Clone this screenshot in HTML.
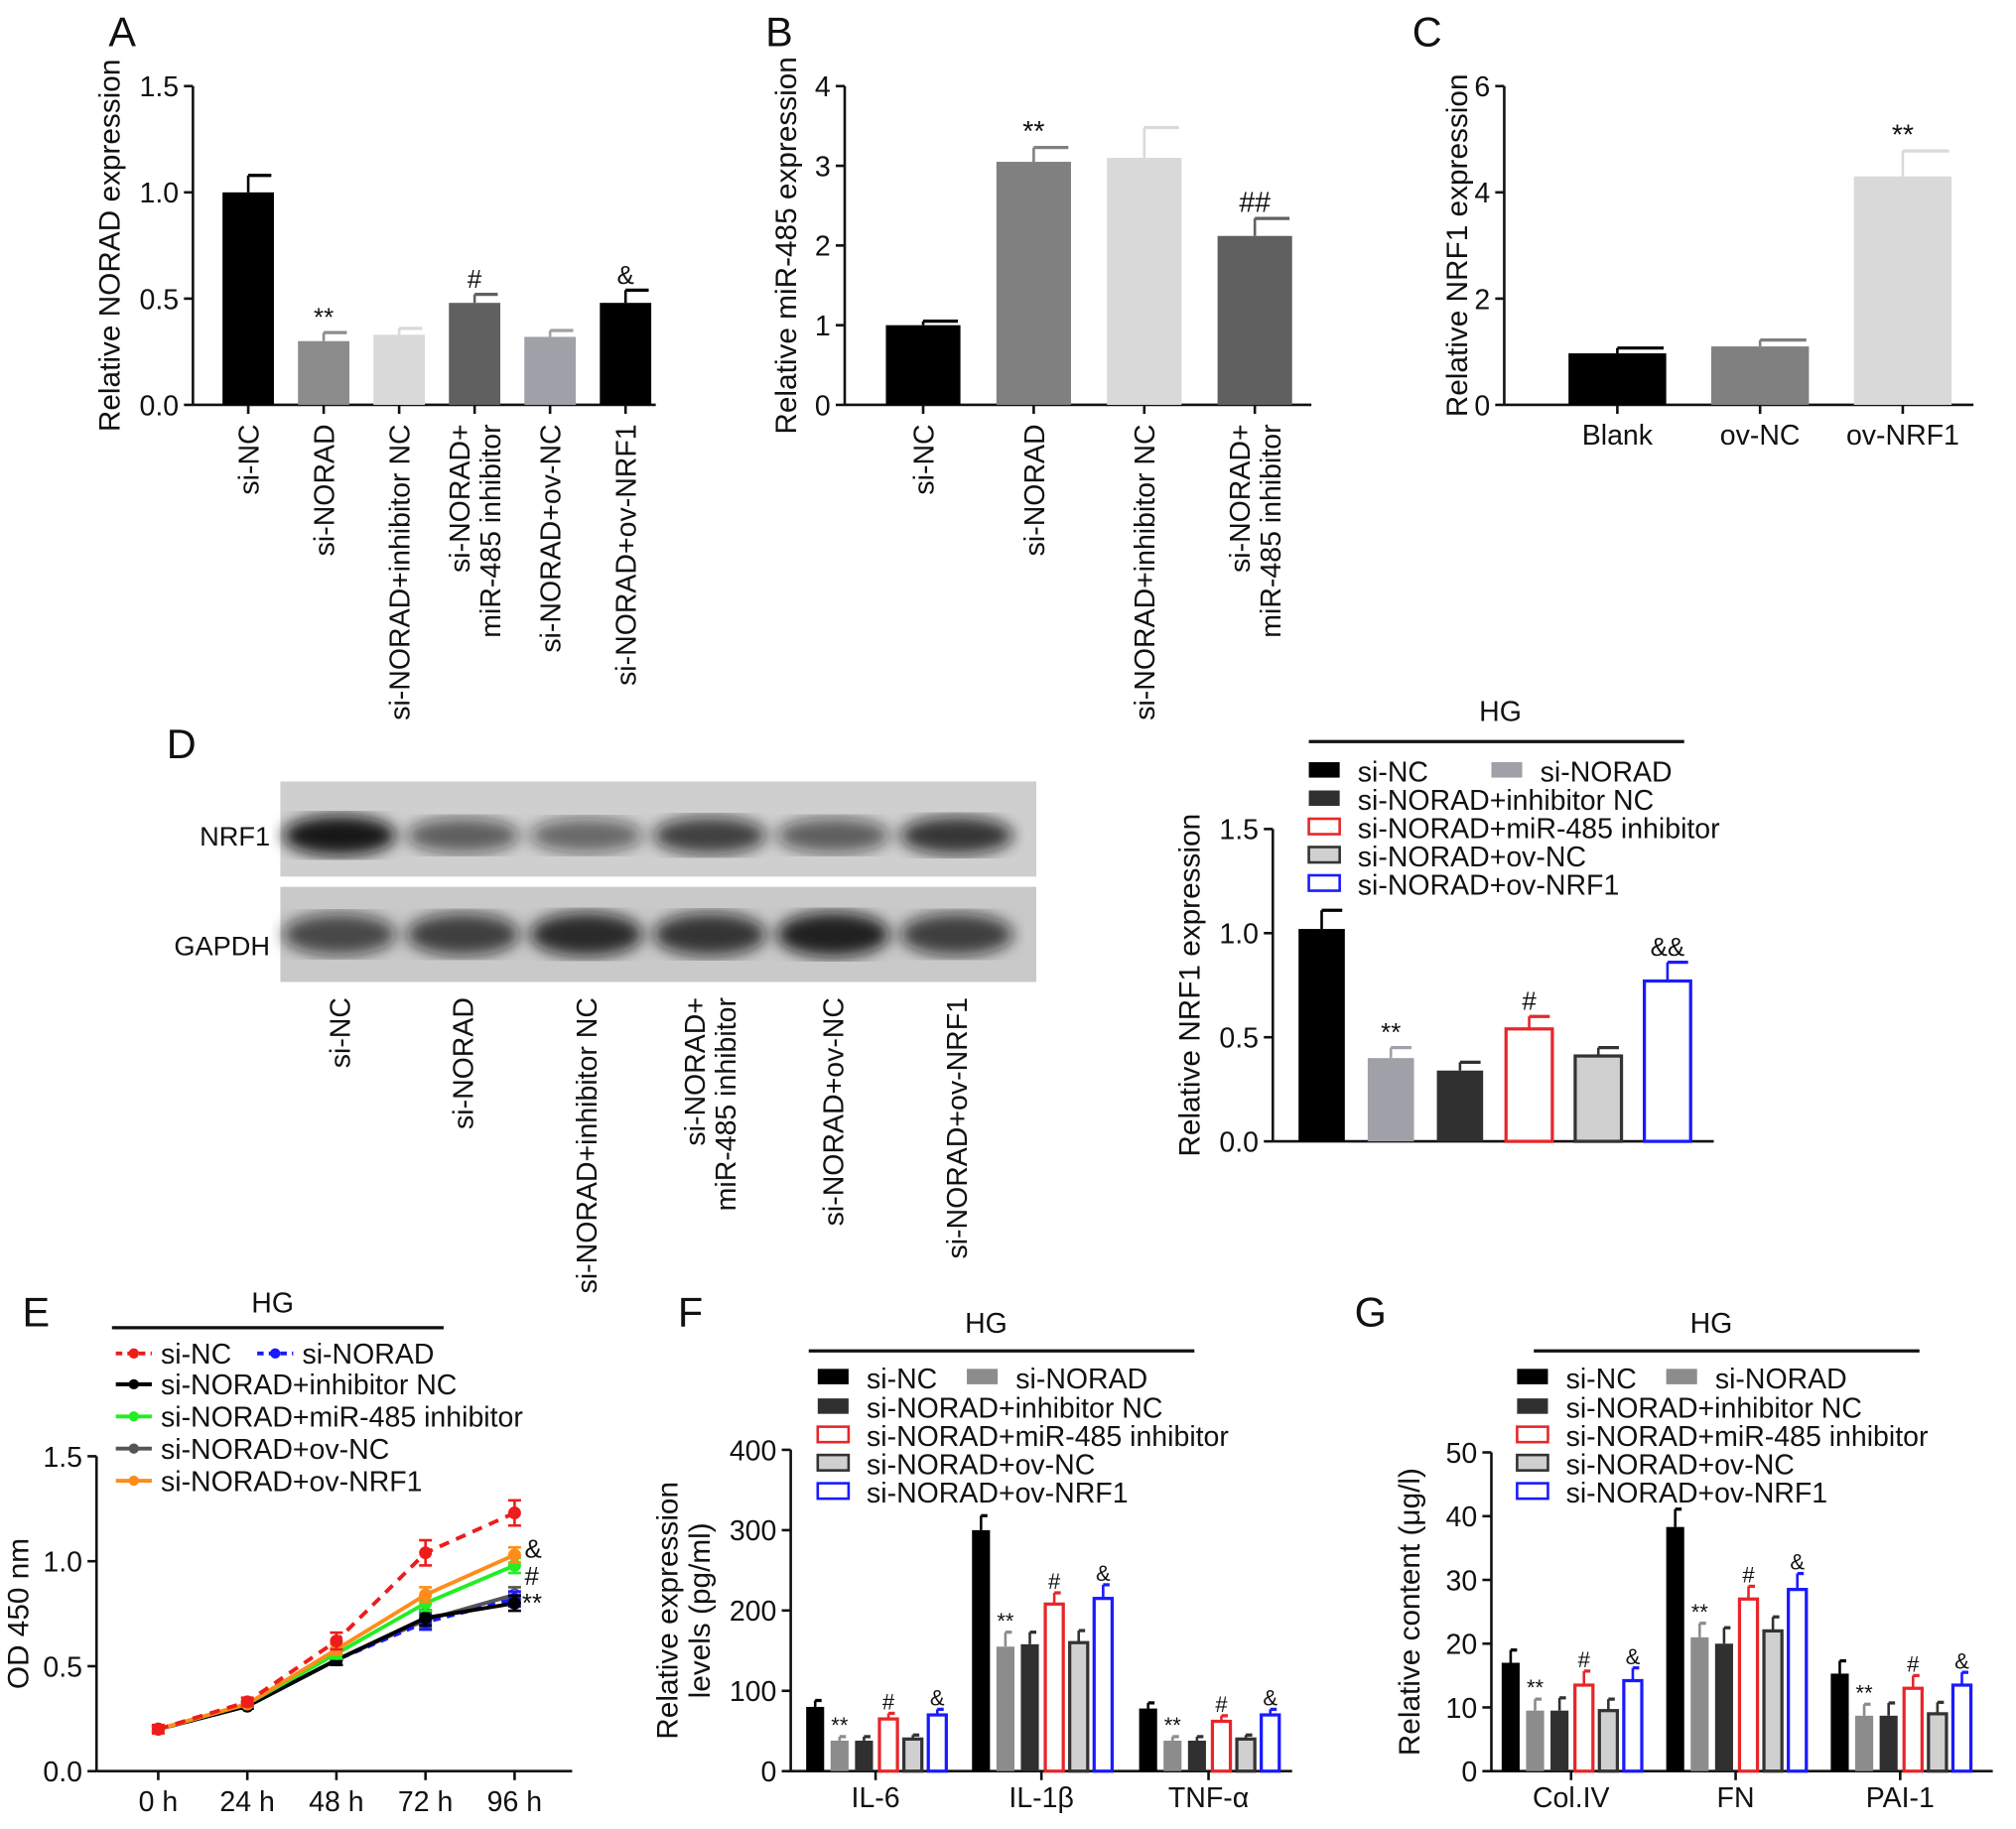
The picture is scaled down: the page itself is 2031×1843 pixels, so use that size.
<!DOCTYPE html>
<html><head><meta charset="utf-8"><style>
html,body{margin:0;padding:0;background:#fff}
svg{display:block;font-family:"Liberation Sans",sans-serif}
</style></head><body>
<svg id="fig" width="2031" height="1843" viewBox="0 0 1568 1423" xmlns="http://www.w3.org/2000/svg">
<g id="root"></g>
</svg>
<script>
// ---------- DATA ----------
const aCats=["si-NC","si-NORAD","si-NORAD+inhibitor NC","si-NORAD+|miR-485 inhibitor","si-NORAD+ov-NC","si-NORAD+ov-NRF1"];
const aVals=[1.0,0.30,0.33,0.48,0.32,0.48];
const aErr=[0.08,0.04,0.03,0.04,0.03,0.06];
const aSig=["","**","","#","","&"];
const aTicks=[0,0.5,1.0,1.5];
const bCats=["si-NC","si-NORAD","si-NORAD+inhibitor NC","si-NORAD+|miR-485 inhibitor"];
const bVals=[1.0,3.05,3.1,2.12];
const bErr=[0.05,0.18,0.38,0.22];
const bSig=["","**","","##"];
const bTicks=[0,1,2,3,4];
const cCats=["Blank","ov-NC","ov-NRF1"];
const cVals=[0.97,1.1,4.3];
const cErr=[0.1,0.12,0.48];
const cSig=["","","**"];
const cTicks=[0,2,4,6];
const dVals=[1.02,0.40,0.34,0.54,0.41,0.77];
const dErr=[0.09,0.05,0.04,0.06,0.04,0.09];
const dSig=["","**","","#","","&&"];
const dTicks=[0,0.5,1.0,1.5];
const dLanes=["si-NC","si-NORAD","si-NORAD+inhibitor NC","si-NORAD+|miR-485 inhibitor","si-NORAD+ov-NC","si-NORAD+ov-NRF1"];
const eTimes=["0 h","24 h","48 h","72 h","96 h"];
const eTicks=[0,0.5,1.0,1.5];
const eNC=[0.2,0.33,0.62,1.04,1.23];
const eNORAD=[0.2,0.31,0.53,0.71,0.82];
const eInhNC=[0.2,0.31,0.53,0.73,0.80];
const eInh=[0.2,0.32,0.56,0.80,0.98];
const eOvNC=[0.2,0.31,0.53,0.72,0.84];
const eOvNRF1=[0.2,0.32,0.58,0.84,1.03];
const eErrNC=[0.02,0.02,0.04,0.06,0.06];
const fGroups=["IL-6","IL-1β","TNF-α"];
const fVals=[[80,38,38,65,40,70],[300,155,158,208,160,215],[78,38,38,62,40,70]];
const fErr=[[8,5,5,7,5,7],[18,18,15,14,15,17],[7,5,5,7,5,7]];
const fTicks=[0,100,200,300,400];
const gGroups=["Col.IV","FN","PAI-1"];
const gVals=[[17,9.5,9.5,13.5,9.5,14.2],[38.3,21,20,27,22,28.5],[15.3,8.7,8.7,13,9,13.5]];
const gErr=[[2,1.8,2,2.2,1.8,2],[2.8,2.2,2.5,2,2.2,2.5],[2,1.8,2,2,1.8,2]];
const gTicks=[0,10,20,30,40,50];
const grpSig=["","**","","#","","&"];
const legendNames=["si-NC","si-NORAD","si-NORAD+inhibitor NC","si-NORAD+miR-485 inhibitor","si-NORAD+ov-NC","si-NORAD+ov-NRF1"];

// ---------- HELPERS ----------
const NS="http://www.w3.org/2000/svg";
const root=document.getElementById('root');
function mk(tag,attrs,parent,name){const e=document.createElementNS(NS,tag);for(const k in attrs)e.setAttribute(k,attrs[k]);


(parent||root).appendChild(e);return e;}
function txt(x,y,s,size,anchor,parent,name,extra){const t=mk('text',Object.assign({x:x,y:y,'font-size':size,'text-anchor':anchor||'middle',fill:'#111'},extra||{}),parent,name);t.textContent=s;return t;}
function lin(x1,y1,x2,y2,parent,name,w,col,dash){const a={x1,y1,x2,y2,stroke:col||'#111','stroke-width':w||2};if(dash)a['stroke-dasharray']=dash;return mk('line',a,parent,name);}
function yScale(y0,y1,max){return v=>y0-(y0-y1)*v/max;}
function yAxis(g,x,y0,y1,ticks,fmt,title,tx,size){const max=ticks[ticks.length-1];const ys=yScale(y0,y1,max);
 lin(x,y0,x,y1,g,'y-axis');
 ticks.forEach(t=>{lin(x-7,ys(t),x,ys(t),g,'y-tick');txt(x-11,ys(t)+8,fmt(t),size||22,'end',g,'y-tick-label');});
 if(title){const lines=title.split('|');lines.forEach((l,i)=>{const xx=tx+i*25;txt(xx,(y0+y1)/2,l,size?size+1:23,'middle',g,'y-axis-title',{transform:`rotate(-90 ${xx} ${(y0+y1)/2})`});});}
 return ys;}
function rotLabel(x,y,s,g,size){const lines=s.split('|');const n=lines.length;lines.forEach((l,i)=>{const xx=x+(i-(n-1)/2)*24+8;txt(xx,y,l,size||22,'end',g,'x-tick-label',{transform:`rotate(-90 ${xx} ${y})`});});}
function bar(g,cx,w,ys,v,e,fill,stroke,name){const y=ys(v),y0=ys(0);
 mk('rect',{x:cx-w/2,y:y,width:w,height:y0-y,fill:fill,stroke:stroke||'none','stroke-width':stroke?2.5:0},g,name);
 const ye=ys(v+e);lin(cx,y,cx,ye,g,'error-bar',2,stroke||fill);lin(cx,ye,cx+w/2-2,ye,g,'error-cap',2.5,stroke||fill);}
function sig(g,cx,y,s,size){if(s)txt(cx,y,s,size||20,'middle',g,'significance-mark');}
const fx=(t)=>t.toFixed(1);
const fi=(t)=>String(t);

// ---------- PANEL A ----------
{const g=mk('g',{},root,'panel-a');txt(95,36,"A",32,'middle',g,'panel-label');
 const ys=yAxis(g,150,315,67,aTicks,fx,"Relative NORAD expression",93);
 lin(150,315,510,315,g,'x-axis');
 const cols=['#000','#8c8c8c','#d9d9d9','#606060','#a0a0a8','#000'];
 aCats.forEach((c,i)=>{const cx=193+i*58.7;bar(g,cx,40,ys,aVals[i],aErr[i],cols[i],null,'bar-'+i);
  sig(g,cx,ys(aVals[i]+aErr[i])-5,aSig[i]);lin(cx,315,cx,322,g,'x-tick');rotLabel(cx,330,c,g);});}
// ---------- PANEL B ----------
{const g=mk('g',{},root,'panel-b');txt(606,36,"B",32,'middle',g,'panel-label');
 const ys=yAxis(g,657,315,67,bTicks,fi,"Relative miR-485 expression",619);
 lin(657,315,1020,315,g,'x-axis');
 const cols=['#000','#808080','#d9d9d9','#606060'];
 bCats.forEach((c,i)=>{const cx=718+i*86;bar(g,cx,58,ys,bVals[i],bErr[i],cols[i],null,'bar-'+i);
  sig(g,cx,ys(bVals[i]+bErr[i])-5,bSig[i],22);lin(cx,315,cx,322,g,'x-tick');rotLabel(cx,330,c,g);});}
// ---------- PANEL C ----------
{const g=mk('g',{},root,'panel-c');txt(1110,36,"C",32,'middle',g,'panel-label');
 const ys=yAxis(g,1170,315,67,cTicks,fi,"Relative NRF1 expression",1141);
 lin(1170,315,1535,315,g,'x-axis');
 const cols=['#000','#808080','#d9d9d9'];
 cCats.forEach((c,i)=>{const cx=1258+i*111;bar(g,cx,76,ys,cVals[i],cErr[i],cols[i],null,'bar-'+i);
  sig(g,cx,ys(cVals[i]+cErr[i])-5,cSig[i],22);lin(cx,315,cx,322,g,'x-tick');txt(cx,346,c,22,'middle',g,'x-tick-label');});}
// ---------- PANEL D ----------
{const g=mk('g',{},root,'panel-d');txt(141,590,"D",32,'middle',g,'panel-label');
 const defs=mk('defs',{},g,'blot-defs');
 const f=mk('filter',{id:'blur'},defs,'blur-filter');mk('feGaussianBlur',{stdDeviation:6},f,'blur');
 mk('rect',{x:218,y:608,width:588,height:74,fill:'#cfcfcf'},g,'blot-nrf1-bg');
 mk('rect',{x:218,y:690,width:588,height:74,fill:'#c9c9c9'},g,'blot-gapdh-bg');
 const nrfI=[0.95,0.6,0.55,0.75,0.6,0.8];const gI=[0.7,0.75,0.85,0.8,0.9,0.75];
 dLanes.forEach((c,i)=>{const cx=264+i*96;
  mk('ellipse',{cx:cx,cy:650,rx:44,ry:10+6*nrfI[i],fill:'#111','fill-opacity':nrfI[i],filter:'url(#blur)'},g,'band-nrf1');
  mk('ellipse',{cx:cx,cy:727,rx:44,ry:12+6*gI[i],fill:'#111','fill-opacity':gI[i],filter:'url(#blur)'},g,'band-gapdh');
  rotLabel(cx,776,c,g);});
 txt(210,658,"NRF1",21,'end',g,'blot-label');txt(210,743,"GAPDH",21,'end',g,'blot-label');
 const ys=yAxis(g,990,888,645,dTicks,fx,"Relative NRF1 expression",933);
 lin(990,888,1333,888,g,'x-axis');
 txt(1167,561,"HG",22,'middle',g,'hg-label');lin(1018,577,1310,577,g,'hg-line',2.5);
 const fills=['#000','#a0a0a8','#303030','#fff','#d0d0d0','#fff'];const strokes=[null,null,null,'#e8262a','#333','#1a1aff'];
 dVals.forEach((v,i)=>{const cx=1028+i*53.8;bar(g,cx,36,ys,v,dErr[i],fills[i],strokes[i],'bar-'+i);sig(g,cx,ys(v+dErr[i])-5,dSig[i]);});
 const lx=[1018,1160,1018,1018,1018,1018],ly=[600,600,622,644,666,688];
 legendNames.forEach((n,i)=>{mk('rect',{x:lx[i],y:ly[i]-7,width:24,height:12,fill:fills[i],stroke:strokes[i]||'none','stroke-width':2},g,'legend-swatch');txt(lx[i]+38,ly[i]+8,n,22,'start',g,'legend-entry');});}
// ---------- PANEL E ----------
{const g=mk('g',{},root,'panel-e');txt(28,1032,"E",32,'middle',g,'panel-label');
 const ys=yAxis(g,75,1378,1133,eTicks,fx,"OD 450 nm",22);
 lin(75,1378,445,1378,g,'x-axis');
 const xs=i=>123+i*69.3;
 eTimes.forEach((t,i)=>{lin(xs(i),1378,xs(i),1385,g,'x-tick');txt(xs(i),1409,t,22,'middle',g,'x-tick-label');});
 txt(212,1021,"HG",22,'middle',g,'hg-label');lin(87,1033,345,1033,g,'hg-line',2.5);
 const series=[[eOvNC,'#555',null,'circ'],[eNORAD,'#1a1aff','6,5','sq'],[eInhNC,'#000',null,'dia'],[eInh,'#22ee22',null,'tri'],[eOvNRF1,'#ff8c1a',null,'tri'],[eNC,'#ee1c1c','8,6','circ']];
 series.forEach((s,k)=>{const d=s[0];const pts=d.map((v,i)=>xs(i)+','+ys(v)).join(' ');
  const a={points:pts,fill:'none',stroke:s[1],'stroke-width':3};if(s[2])a['stroke-dasharray']=s[2];mk('polyline',a,g,'series-line');
  d.forEach((v,i)=>{const e=eErrNC[i]*(k===5?1:0.6);lin(xs(i),ys(v-e),xs(i),ys(v+e),g,'error-bar',2,s[1]);lin(xs(i)-5,ys(v+e),xs(i)+5,ys(v+e),g,'error-cap',2,s[1]);lin(xs(i)-5,ys(v-e),xs(i)+5,ys(v-e),g,'error-cap',2,s[1]);
   mk('circle',{cx:xs(i),cy:ys(v),r:4.5,fill:s[3]==='circ'&&k===0?'#ccc':s[1],stroke:s[1]},g,'series-point');});});
 txt(408,1212,"&",20,'start',g,'significance-mark');txt(408,1233,"#",20,'start',g,'significance-mark');txt(406,1254,"**",20,'start',g,'significance-mark');
 const lg=[['si-NC','#ee1c1c','5,4',90,1053],['si-NORAD','#1a1aff','5,4',200,1053],['si-NORAD+inhibitor NC','#000',null,90,1077],['si-NORAD+miR-485 inhibitor','#22ee22',null,90,1102],['si-NORAD+ov-NC','#555',null,90,1127],['si-NORAD+ov-NRF1','#ff8c1a',null,90,1152]];
 lg.forEach(l=>{const a={x1:l[3],y1:l[4],x2:l[3]+28,y2:l[4],stroke:l[1],'stroke-width':3};if(l[2])a['stroke-dasharray']=l[2];mk('line',a,g,'legend-line');mk('circle',{cx:l[3]+14,cy:l[4],r:4,fill:l[1]},g,'legend-marker');txt(l[3]+35,l[4]+8,l[0],22,'start',g,'legend-entry');});}
// ---------- PANELS F, G ----------
function groupPanel(name,letter,lx,x0,xend,y0,y1,ticks,vals,errs,groups,gc,title,tx,legx,hgx){
 const g=mk('g',{},root,name);txt(lx,1032,letter,32,'middle',g,'panel-label');
 const ys=yAxis(g,x0,y0,y1,ticks,fi,title,tx);
 lin(x0,y0,xend,y0,g,'x-axis');
 txt(hgx,1037,"HG",22,'middle',g,'hg-label');lin(hgx-138,1051,hgx+162,1051,g,'hg-line',2.5);
 const fills=['#000','#8c8c8c','#303030','#fff','#d0d0d0','#fff'];const strokes=[null,null,null,'#e8262a','#333','#1a1aff'];
 groups.forEach((gr,j)=>{const c=gc[j];lin(c,y0,c,y0+7,g,'x-tick');txt(c,1406,gr,22,'middle',g,'x-tick-label');
  vals[j].forEach((v,i)=>{const cx=c-47+i*19;bar(g,cx,14,ys,v,errs[j][i],fills[i],strokes[i],'bar-'+gr+'-'+i);sig(g,cx,ys(v+errs[j][i])-3,grpSig[i],17);});});
 const lxs=[legx,legx+116,legx,legx,legx,legx],lys=[1072,1072,1095,1117,1139,1161];
 legendNames.forEach((n,i)=>{mk('rect',{x:lxs[i],y:lys[i]-7,width:24,height:12,fill:fills[i],stroke:strokes[i]||'none','stroke-width':2},g,'legend-swatch');txt(lxs[i]+38,lys[i]+8,n,22,'start',g,'legend-entry');});}
groupPanel('panel-f','F',537,615,1005,1378,1128,fTicks,fVals,fErr,fGroups,[681,810,940],"Relative expression|levels (pg/ml)",527,636,767);
groupPanel('panel-g','G',1066,1160,1550,1378,1130,gTicks,gVals,gErr,gGroups,[1222,1350,1478],"Relative content (μg/l)",1104,1180,1331);
</script>
</body></html>
